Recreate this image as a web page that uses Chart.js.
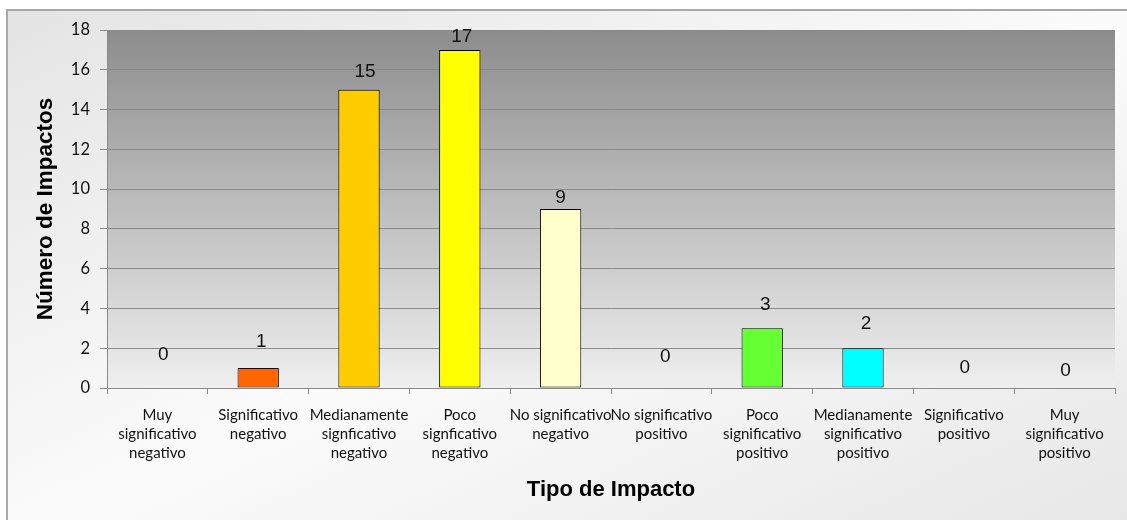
<!DOCTYPE html>
<html>
<head>
<meta charset="utf-8">
<script src="https://cdn.jsdelivr.net/npm/chart.js@4/dist/chart.umd.min.js"></script>
<style>
  html, body { margin: 0; padding: 0; background: #fff; overflow: hidden; }
  #frame {
    position: absolute; left: 6px; top: 9px; width: 1140px; height: 530px;
    border: 2px solid #a8a8a8;
    background: linear-gradient(to bottom right, #e4e4e4 0%, #fbfbfb 50%, #e6e6e6 100%);
  }
  #chart { position: absolute; left: 0; top: 0; }
</style>
</head>
<body>
<div id="frame"></div>
<canvas id="chart" width="1127" height="520"></canvas>
<script>
// categories and counts
const tipos = [
    ['Muy', 'significativo', 'negativo'],
    ['Significativo', 'negativo'],
    ['Medianamente', 'signficativo', 'negativo'],
    ['Poco', 'signficativo', 'negativo'],
    ['No significativo', 'negativo'],
    ['No significativo', 'positivo'],
    ['Poco', 'significativo', 'positivo'],
    ['Medianamente', 'significativo', 'positivo'],
    ['Significativo', 'positivo'],
    ['Muy', 'significativo', 'positivo']
];
const impactos = [0, 1, 15, 17, 9, 0, 3, 2, 0, 0];
const colores = ['#c00000', '#ff6600', '#ffcc00', '#ffff00', '#ffffcc',
                 '#ccffcc', '#66ff33', '#00ffff', '#0070c0', '#0000ff'];

// small nudges for the value labels [dx, lift above bar top]
const labelNudge = [[6, 33], [3, 26], [6, 18], [2, 13], [0, 11],
                    [4, 31], [3, 24], [3, 24], [1, 20], [1, 17]];

const plotBackground = {
    id: 'plotBackground',
    beforeDraw(chart) {
        const { ctx, chartArea: a } = chart;
        const g = ctx.createLinearGradient(0, a.top, 0, a.bottom);
        g.addColorStop(0, '#8c8c8c');
        g.addColorStop(1, '#efefef');
        ctx.save();
        ctx.fillStyle = g;
        ctx.fillRect(a.left, a.top, a.right - a.left, a.bottom - a.top);
        ctx.restore();
    }
};

const valueLabels = {
    id: 'valueLabels',
    afterDatasetsDraw(chart) {
        const ctx = chart.ctx;
        const meta = chart.getDatasetMeta(0);
        ctx.save();
        ctx.font = '19px "Liberation Sans", Arial, sans-serif';
        ctx.fillStyle = '#111';
        ctx.textAlign = 'center';
        ctx.textBaseline = 'middle';
        meta.data.forEach((bar, i) => {
            const [dx, lift] = labelNudge[i];
            ctx.fillText(String(impactos[i]), bar.x + dx, bar.y - lift);
        });
        ctx.restore();
    }
};

new Chart(document.getElementById('chart'), {
    type: 'bar',
    data: {
        labels: tipos,
        datasets: [{
            data: impactos,
            backgroundColor: colores,
            borderColor: '#000',
            borderWidth: ctx => impactos[ctx.dataIndex] ? 1 : 0,
            borderSkipped: false,
            categoryPercentage: 1,
            barPercentage: 0.41
        }]
    },
    options: {
        responsive: false,
        animation: false,
        devicePixelRatio: 1,
        layout: { padding: { left: 0, top: 30, right: 12, bottom: 0 } },
        plugins: {
            legend: { display: false },
            tooltip: { enabled: false }
        },
        scales: {
            x: {
                afterFit: s => { s.height = 132; },
                border: { color: '#8a8a8a', width: 1 },
                grid: { drawOnChartArea: false, drawTicks: true, tickLength: 6, offset: true, color: '#8a8a8a' },
                ticks: {
                    autoSkip: false, maxRotation: 0, minRotation: 0, padding: 12,
                    color: '#111',
                    font: { family: 'Lato, "Open Sans", sans-serif', size: 15, lineHeight: 1.27 }
                },
                title: {
                    display: true, text: 'Tipo de Impacto', color: '#000',
                    font: { family: '"Liberation Sans", Arial, sans-serif', size: 22, weight: 'bold' },
                    padding: { top: 0, bottom: 17 }
                }
            },
            y: {
                min: 0, max: 18,
                afterFit: s => { s.width = 107; },
                border: { color: '#8a8a8a', width: 1 },
                grid: { color: '#8a8a8a', tickLength: 7 },
                ticks: {
                    stepSize: 2, padding: 10, color: '#111',
                    font: { family: 'Lato, "Open Sans", sans-serif', size: 16.5 }
                },
                title: {
                    display: true, text: 'Número de Impactos', color: '#000',
                    font: { family: '"Liberation Sans", Arial, sans-serif', size: 22.5, weight: 'bold' },
                    padding: { top: 32, bottom: 0 }
                }
            }
        }
    },
    plugins: [plotBackground, valueLabels]
});
</script>
</body>
</html>
